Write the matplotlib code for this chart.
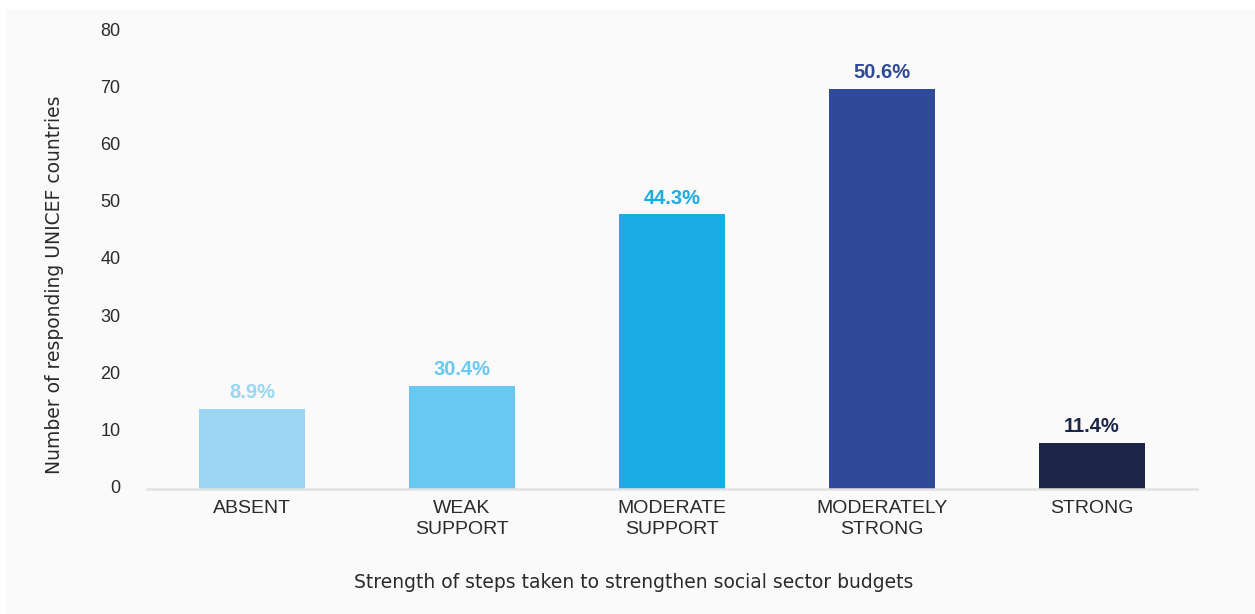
import matplotlib
matplotlib.use("Agg")
import matplotlib.pyplot as plt
from matplotlib.patches import Rectangle
from matplotlib.transforms import ScaledTranslation

categories = ["ABSENT", "WEAK\nSUPPORT", "MODERATE\nSUPPORT", "MODERATELY\nSTRONG", "STRONG"]
counts = [14, 18, 48, 70, 8]
pct_labels = ["8.9%", "30.4%", "44.3%", "50.6%", "11.4%"]
bar_colors = ["#9AD6F2", "#68C8F2", "#1AACE2", "#2E4A98", "#1C2548"]
y_ticks = [0, 10, 20, 30, 40, 50, 60, 70, 80]

plt.rcParams["font.family"] = ["Liberation Sans", "DejaVu Sans"]
title_family = ["DejaVu Sans"]
text_color = "#2a2a2a"

W, H = 1255, 614
fig = plt.figure(figsize=(W / 100, H / 100), dpi=100)
fig.patch.set_facecolor("white")
fig.add_artist(Rectangle((6 / W, 0), 1 - 6 / W, 1 - 9 / H, transform=fig.transFigure,
                         facecolor="#fafafa", edgecolor="none", zorder=0))

ax = fig.add_axes([147 / W, 1 - 488.5 / H, 1050 / W, (488.5 - 31.5) / H])
ax.set_facecolor("none")

x = range(len(categories))
ax.bar(x, counts, width=0.505, color=bar_colors, zorder=2)
for xi, v, lab, c in zip(x, counts, pct_labels, bar_colors):
    ax.annotate(lab, (xi, v), xytext=(0, 7.5), textcoords="offset points",
                ha="center", va="baseline", color=c, fontsize=14.5, fontweight="bold")

ax.set_xlim(-0.5, 4.5)
ax.set_ylim(0, 80)
ax.set_yticks(y_ticks)
ax.set_xticks(list(x))
ax.set_xticklabels(categories, fontsize=14, color=text_color, linespacing=1.35)
ax.tick_params(axis="x", length=0, pad=8)
ax.tick_params(axis="y", length=0, pad=19, labelsize=13, labelcolor=text_color)
shift_up = ScaledTranslation(0, 2 / 100, fig.dpi_scale_trans)
for lbl in ax.get_yticklabels():
    lbl.set_transform(lbl.get_transform() + shift_up)
for s in ["left", "right", "top"]:
    ax.spines[s].set_visible(False)
ax.spines["bottom"].set_color("#e2e2e2")
ax.spines["bottom"].set_linewidth(1.8)
ax.spines["bottom"].set_zorder(3)

fig.text(634 / W, 1 - 583 / H, "Strength of steps taken to strengthen social sector budgets",
         ha="center", va="center", fontsize=13.5, color=text_color, family=title_family)
fig.text(55 / W, 1 - 285 / H, "Number of responding UNICEF countries", rotation=90,
         ha="center", va="center", fontsize=13.5, color=text_color, family=title_family)

fig.savefig("out.png", dpi=100, facecolor=fig.get_facecolor())
